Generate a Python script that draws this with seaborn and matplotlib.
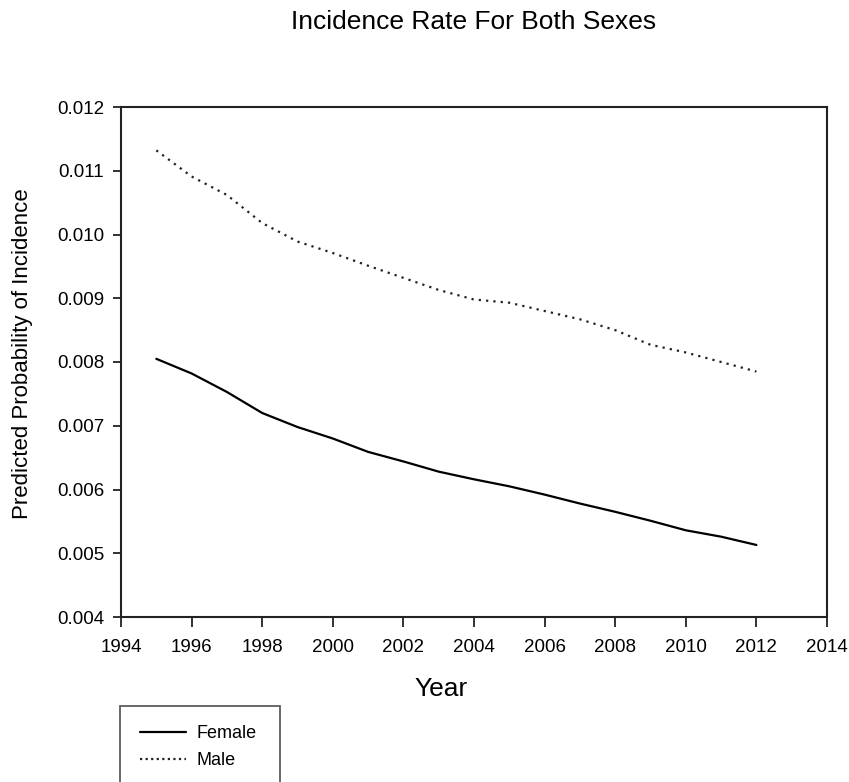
import matplotlib
matplotlib.use("Agg")
import matplotlib.pyplot as plt
import seaborn as sns
import pandas as pd
from matplotlib.lines import Line2D

years = list(range(1995, 2013))
female = [0.00805, 0.00782, 0.00753, 0.00720, 0.00698, 0.00680, 0.00659, 0.00644,
          0.00628, 0.00616, 0.00605, 0.00592, 0.00578, 0.00565, 0.00551, 0.00536,
          0.00526, 0.00513]
male = [0.01132, 0.01091, 0.01062, 0.01018, 0.00989, 0.00971, 0.00951, 0.00932,
        0.00913, 0.00898, 0.00893, 0.00880, 0.00867, 0.00850, 0.00827, 0.00815,
        0.00800, 0.00785]
series_names = ["Female", "Male"]
x_ticks = list(range(1994, 2015, 2))
y_ticks = [0.004, 0.005, 0.006, 0.007, 0.008, 0.009, 0.010, 0.011, 0.012]

df = pd.DataFrame({
    "Year": years * 2,
    "Value": female + male,
    "Sex": [series_names[0]] * len(years) + [series_names[1]] * len(years),
})

sns.set_theme(style="white")
plt.rcParams["font.family"] = ["Liberation Sans", "DejaVu Sans"]
plt.rcParams["text.color"] = "black"
plt.rcParams["axes.labelcolor"] = "black"

fig = plt.figure(figsize=(8.49, 7.82), dpi=100)
ax = fig.add_axes([121 / 849, 1 - 617 / 782, 706 / 849, 510 / 782])

sns.lineplot(data=df, x="Year", y="Value", hue="Sex", style="Sex",
             palette={"Female": "black", "Male": "#222222"},
             dashes={"Female": "", "Male": (1, 2.3)},
             linewidth=1.6, ax=ax, legend=False)

ax.set_xlim(1994, 2014)
ax.set_ylim(0.004, 0.012)
ax.set_xticks(x_ticks)
ax.set_xticklabels([str(t) for t in x_ticks])
ax.set_yticks(y_ticks)
ax.set_yticklabels([f"{t:.3f}" for t in y_ticks])
ax.set_xlabel("")
ax.set_ylabel("")

for s in ax.spines.values():
    s.set_visible(True)
    s.set_color("#222222")
    s.set_linewidth(1.5)

ax.tick_params(axis="x", which="both", bottom=True, top=False, direction="out",
               length=7, width=1.3, colors="#222222", labelcolor="black",
               labelsize=13.5, pad=9)
ax.tick_params(axis="y", which="both", left=True, right=False, direction="out",
               length=6, width=1.3, colors="#222222", labelcolor="black",
               labelsize=13.5, pad=6)
ax.grid(False)

fig.text(474 / 849, 1 - 22 / 782, "Incidence Rate For Both Sexes",
         ha="center", va="center", fontsize=19, color="black")
fig.text(441 / 849, 1 - 689 / 782, "Year", ha="center", va="center",
         fontsize=19, color="black")
fig.text(23 / 849, 1 - 354 / 782, "Predicted Probability of Incidence",
         ha="center", va="center", rotation=90, fontsize=16, color="black")

handles = [Line2D([0], [0], color="black", lw=1.6),
           Line2D([0], [0], color="#222222", lw=1.6, linestyle=(0, (1, 1.5)))]
leg = fig.legend(handles, series_names, loc="upper left",
                 bbox_to_anchor=(120 / 849, 1 - 706 / 782, 160 / 849, 0),
                 mode="expand", fontsize=13, frameon=True, fancybox=False,
                 borderpad=1.08, handlelength=2.6, handletextpad=0.55,
                 labelspacing=0.52, borderaxespad=0)
for t in leg.get_texts():
    t.set_color("black")
leg.get_frame().set_edgecolor("#333333")
leg.get_frame().set_linewidth(1.3)

fig.savefig("out.png", dpi=100)
